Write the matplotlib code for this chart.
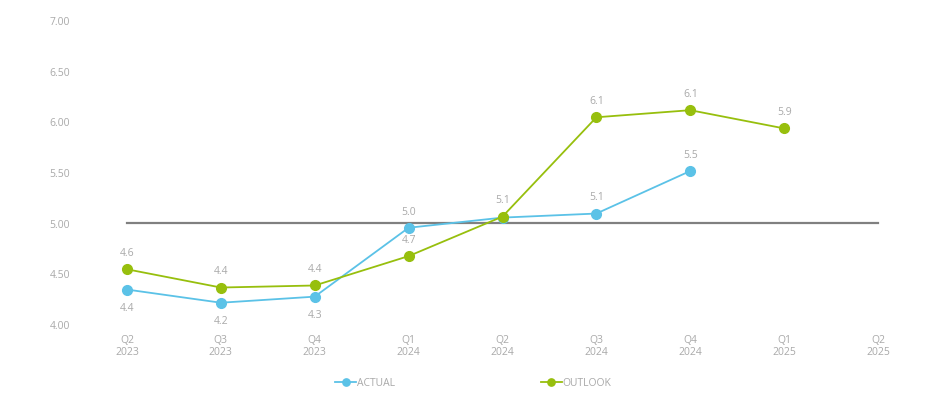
import numpy as np
import matplotlib
matplotlib.use("Agg")
import matplotlib.pyplot as plt

# quarters on the x axis
quarters = ["Q2\n2023", "Q3\n2023", "Q4\n2023", "Q1\n2024", "Q2\n2024",
            "Q3\n2024", "Q4\n2024", "Q1\n2025", "Q2\n2025"]

# series values and their printed labels
actual = [4.34, 4.21, 4.27, 4.95, 5.05, 5.09, 5.51]
actual_labels = ["4.4", "4.2", "4.3", "5.0", "5.1", "5.1", "5.5"]
actual_below = [True, True, True, False, False, False, False]

outlook = [4.54, 4.36, 4.38, 4.67, 5.06, 6.04, 6.11, 5.93]
outlook_labels = ["4.6", "4.4", "4.4", "4.7", "5.1", "6.1", "6.1", "5.9"]

reference = 5.0
y_ticks = [4.0, 4.5, 5.0, 5.5, 6.0, 6.5, 7.0]

blue = "#5bc2e7"
green = "#97bf0d"
grey_text = "#a9a9a9"

plt.rcParams["font.family"] = ["Open Sans", "DejaVu Sans"]

fig = plt.figure(figsize=(9.47, 4.10), dpi=100)
ax = fig.add_axes([80 / 947, 1 - 325 / 410, 845 / 947, 304 / 410])

x = np.arange(len(quarters))

# reference line at 5.00
ax.plot([x[0], x[-1]], [reference, reference], color="#808080", lw=1.6, zorder=1)

ax.plot(x[:len(actual)], actual, color=blue, lw=1.3, marker="o", ms=7,
        label="ACTUAL", zorder=3)
ax.plot(x[:len(outlook)], outlook, color=green, lw=1.3, marker="o", ms=7,
        label="OUTLOOK", zorder=3)

# data labels
for i, (v, lab) in enumerate(zip(actual, actual_labels)):
    if actual_below[i]:
        ax.annotate(lab, (x[i], v), xytext=(0, -9), textcoords="offset points",
                    ha="center", va="top", fontsize=7.5, color=grey_text)
    else:
        if i == 4:
            continue  # hidden behind the outlook label
        ax.annotate(lab, (x[i], v), xytext=(0, 8), textcoords="offset points",
                    ha="center", va="bottom", fontsize=7.5, color=grey_text)
for i, (v, lab) in enumerate(zip(outlook, outlook_labels)):
    ax.annotate(lab, (x[i], v), xytext=(0, 8), textcoords="offset points",
                ha="center", va="bottom", fontsize=7.5, color=grey_text)

ax.set_xlim(-0.5, 8.5)
ax.set_ylim(4.0, 7.0)
ax.set_xticks(x)
ax.set_xticklabels(quarters)
ax.set_yticks(y_ticks)
ax.set_yticklabels(["%.2f" % t for t in y_ticks])
ax.tick_params(axis="both", length=0, labelsize=7.5, labelcolor=grey_text)
ax.tick_params(axis="y", pad=7)
ax.tick_params(axis="x", pad=7)
for s in ax.spines.values():
    s.set_visible(False)

leg = fig.legend(loc="center", bbox_to_anchor=(0.5, 1 - 384 / 410), ncol=2,
                 frameon=False, fontsize=7.5, labelcolor=grey_text,
                 handlelength=2.0, handletextpad=0.1, columnspacing=14,
                 markerscale=0.75)

fig.savefig("out.png", dpi=100)
